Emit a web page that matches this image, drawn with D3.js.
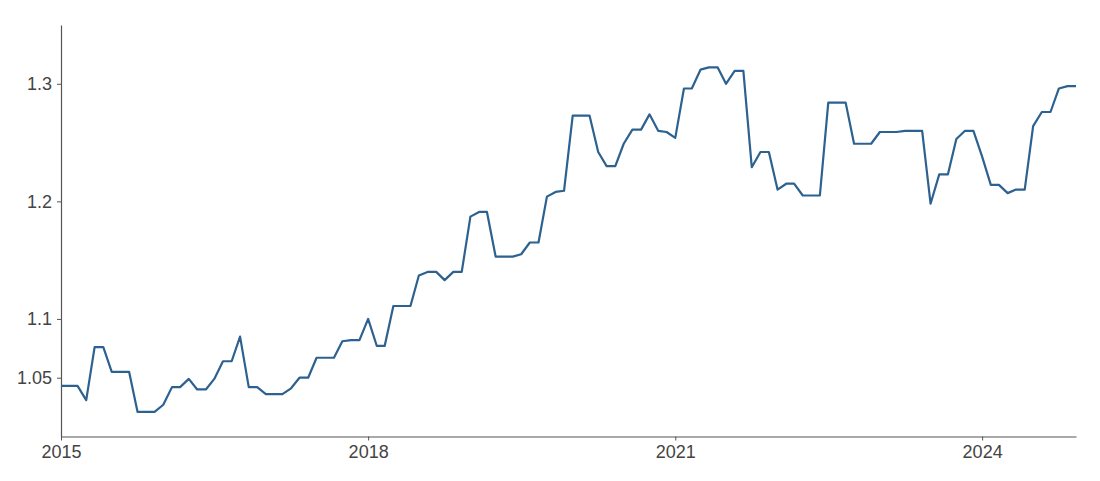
<!DOCTYPE html>
<html>
<head>
<meta charset="utf-8">
<script src="https://cdn.jsdelivr.net/npm/d3@7"></script>
<style>
  body { margin: 0; background: #fff; }
  svg text { font-family: "Liberation Sans", Arial, sans-serif; }
</style>
</head>
<body>
<div id="chart"></div>
<script>
// monthly values, Jan 2015 .. Dec 2024
const startMonth = '2015-01';
const values = [
  1.043, 1.043, 1.043, 1.031, 1.076, 1.076, 1.055, 1.055, 1.055, 1.021, 1.021, 1.021,
  1.027, 1.042, 1.042, 1.049, 1.040, 1.040, 1.049, 1.064, 1.064, 1.085, 1.042, 1.042,
  1.036, 1.036, 1.036, 1.041, 1.050, 1.050, 1.067, 1.067, 1.067, 1.081, 1.082, 1.082,
  1.100, 1.077, 1.077, 1.111, 1.111, 1.111, 1.137, 1.140, 1.140, 1.133, 1.140, 1.140,
  1.187, 1.191, 1.191, 1.153, 1.153, 1.153, 1.155, 1.165, 1.165, 1.204, 1.208, 1.209,
  1.273, 1.273, 1.273, 1.242, 1.230, 1.230, 1.249, 1.261, 1.261, 1.274, 1.260, 1.259,
  1.254, 1.296, 1.296, 1.312, 1.314, 1.314, 1.300, 1.311, 1.311, 1.229, 1.242, 1.242,
  1.210, 1.215, 1.215, 1.205, 1.205, 1.205, 1.284, 1.284, 1.284, 1.249, 1.249, 1.249,
  1.259, 1.259, 1.259, 1.260, 1.260, 1.260, 1.198, 1.223, 1.223, 1.253, 1.260, 1.260,
  1.238, 1.214, 1.214, 1.207, 1.210, 1.210, 1.264, 1.276, 1.276, 1.296, 1.298, 1.298
];
const yTicks = [1.05, 1.1, 1.2, 1.3];
const xTickYears = [2015, 2018, 2021, 2024];

const width = 1100;
const height = 481;
const plotLeft = 61, plotRight = 1076, plotTop = 25, plotBottom = 436.5;

const t0 = d3.timeParse('%Y-%m')(startMonth);
const data = values.map((v, i) => ({date: d3.timeMonth.offset(t0, i), value: v}));

const xScale = d3.scaleTime()
  .domain([data[0].date, data[data.length - 1].date])
  .range([plotLeft, plotRight]);

const yScale = d3.scaleLinear()
  .domain([1.0, 1.35])
  .range([plotBottom, plotTop]);

const svg = d3.select('#chart')
  .append('svg')
    .attr('width', width)
    .attr('height', height);

const xAxis = svg.append('g')
  .attr('transform', `translate(0, ${plotBottom})`)
  .call(d3.axisBottom(xScale)
    .tickValues(xTickYears.map(y => new Date(y, 0, 1)))
    .tickFormat(d3.timeFormat('%Y'))
    .tickSize(4)
    .tickSizeOuter(0)
    .tickPadding(5));

const yAxis = svg.append('g')
  .attr('transform', `translate(${plotLeft}, 0)`)
  .call(d3.axisLeft(yScale)
    .tickValues(yTicks)
    .tickFormat(d3.format(''))
    .tickSize(4)
    .tickSizeOuter(0)
    .tickPadding(5));

[xAxis, yAxis].forEach(ax => {
  ax.select('.domain').attr('stroke', '#555').attr('stroke-width', 1.2);
  ax.selectAll('.tick line').attr('stroke', '#555');
  ax.selectAll('.tick text')
    .attr('fill', '#444')
    .style('font-size', '18px');
});

const line = d3.line()
  .x(d => xScale(d.date))
  .y(d => yScale(d.value));

svg.append('path')
  .datum(data)
  .attr('fill', 'none')
  .attr('stroke', '#2c6190')
  .attr('stroke-width', 2.2)
  .attr('stroke-linejoin', 'round')
  .attr('d', line);
</script>
</body>
</html>
